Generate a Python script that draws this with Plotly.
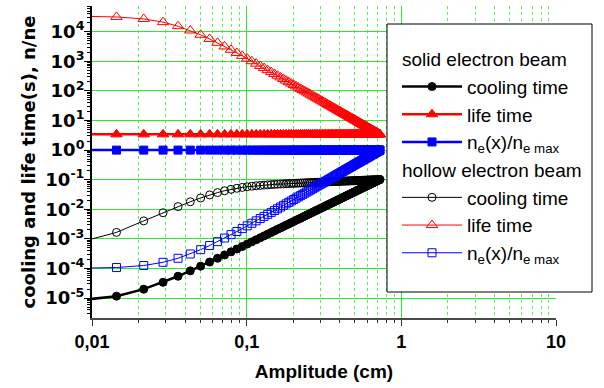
import plotly.graph_objects as go

# Amplitude grid (cm)
AMPLITUDE = [
    0.0072, 0.0144, 0.0216, 0.0288, 0.036, 0.0432, 0.0504, 0.0576, 0.0648, 0.072,
    0.0792, 0.0864, 0.0936, 0.1008, 0.108, 0.1152, 0.1224, 0.1296, 0.1368, 0.144,
    0.1512, 0.1584, 0.1656, 0.1728, 0.18, 0.1872, 0.1944, 0.2016, 0.2088, 0.216,
    0.2232, 0.2304, 0.2376, 0.2448, 0.252, 0.2592, 0.2664, 0.2736, 0.2808, 0.288,
    0.2952, 0.3024, 0.3096, 0.3168, 0.324, 0.3312, 0.3384, 0.3456, 0.3528, 0.36,
    0.3672, 0.3744, 0.3816, 0.3888, 0.396, 0.4032, 0.4104, 0.4176, 0.4248, 0.432,
    0.4392, 0.4464, 0.4536, 0.4608, 0.468, 0.4752, 0.4824, 0.4896, 0.4968, 0.504,
    0.5112, 0.5184, 0.5256, 0.5328, 0.54, 0.5472, 0.5544, 0.5616, 0.5688, 0.576,
    0.5832, 0.5904, 0.5976, 0.6048, 0.612, 0.6192, 0.6264, 0.6336, 0.6408, 0.648,
    0.6552, 0.6624, 0.6696, 0.6768, 0.684, 0.6912, 0.6984, 0.7056, 0.7128, 0.72,
    0.7272,
]

# solid electron beam
SOLID_COOLING = [
    7.79e-6, 1.163e-5, 2.003e-5, 3.412e-5, 5.49e-5, 8.33e-5, 1.200e-4, 1.658e-4, 2.214e-4, 2.875e-4,
    3.648e-4, 4.537e-4, 5.544e-4, 6.685e-4, 7.958e-4, 9.37e-4, 1.092e-3, 1.263e-3, 1.449e-3, 1.650e-3,
    1.868e-3, 2.102e-3, 2.353e-3, 2.623e-3, 2.909e-3, 3.216e-3, 3.540e-3, 3.884e-3, 4.245e-3, 4.627e-3,
    5.031e-3, 5.452e-3, 5.899e-3, 6.365e-3, 6.854e-3, 7.360e-3, 7.890e-3, 8.449e-3, 9.027e-3, 9.632e-3,
    0.01025, 0.01090, 0.01158, 0.01228, 0.01300, 0.01375, 0.01453, 0.01532, 0.01615, 0.01701,
    0.01789, 0.01879, 0.01973, 0.02069, 0.02168, 0.02270, 0.02375, 0.02482, 0.02594, 0.02707,
    0.02822, 0.02942, 0.03064, 0.03190, 0.03318, 0.03449, 0.03586, 0.03723, 0.03863, 0.04010,
    0.04158, 0.04307, 0.04462, 0.04620, 0.04781, 0.04944, 0.05113, 0.05284, 0.05457, 0.05635,
    0.05817, 0.06001, 0.06190, 0.06384, 0.06578, 0.06778, 0.06979, 0.07188, 0.07397, 0.07607,
    0.07825, 0.08048, 0.08273, 0.08498, 0.08730, 0.08970, 0.09208, 0.09455, 0.09698, 0.09955,
    0.1021,
]
SOLID_LIFE = [
    3.4, 3.4, 3.4, 3.4, 3.4, 3.4, 3.4, 3.4, 3.4, 3.4,
    3.4, 3.4, 3.4, 3.4, 3.4, 3.4, 3.4, 3.4, 3.4, 3.4,
    3.4, 3.4, 3.4, 3.4, 3.4, 3.4, 3.4, 3.4, 3.4, 3.4,
    3.4, 3.4, 3.4, 3.4, 3.4, 3.4, 3.4, 3.4, 3.4, 3.4,
    3.4, 3.4, 3.4, 3.4, 3.4, 3.4, 3.4, 3.4, 3.4, 3.4,
    3.4, 3.4, 3.4, 3.4, 3.4, 3.4, 3.4, 3.4, 3.4, 3.4,
    3.4, 3.4, 3.4, 3.4, 3.4, 3.4, 3.4, 3.4, 3.4, 3.4,
    3.4, 3.4, 3.4, 3.4, 3.4, 3.4, 3.4, 3.4, 3.4, 3.4,
    3.4, 3.4, 3.4, 3.4, 3.4, 3.4, 3.4, 3.4, 3.4, 3.4,
    3.4, 3.4, 3.4, 3.4, 3.4, 3.4, 3.4, 3.4, 3.4, 3.4,
    3.4,
]
SOLID_NE = [
    1.0, 1.0, 1.0, 1.0, 1.0, 1.0, 1.0, 1.0, 1.0, 1.0,
    1.0, 1.0, 1.0, 1.0, 1.0, 1.0, 1.0, 1.0, 1.0, 1.0,
    1.0, 1.0, 1.0, 1.0, 1.0, 1.0, 1.0, 1.0, 1.0, 1.0,
    1.0, 1.0, 1.0, 1.0, 1.0, 1.0, 1.0, 1.0, 1.0, 1.0,
    1.0, 1.0, 1.0, 1.0, 1.0, 1.0, 1.0, 1.0, 1.0, 1.0,
    1.0, 1.0, 1.0, 1.0, 1.0, 1.0, 1.0, 1.0, 1.0, 1.0,
    1.0, 1.0, 1.0, 1.0, 1.0, 1.0, 1.0, 1.0, 1.0, 1.0,
    1.0, 1.0, 1.0, 1.0, 1.0, 1.0, 1.0, 1.0, 1.0, 1.0,
    1.0, 1.0, 1.0, 1.0, 1.0, 1.0, 1.0, 1.0, 1.0, 1.0,
    1.0, 1.0, 1.0, 1.0, 1.0, 1.0, 1.0, 1.0, 1.0, 1.0,
    1.0,
]

# hollow electron beam
HOLLOW_COOLING = [
    6.3e-4, 1.66e-3, 4.07e-3, 7.64e-3, 0.01234, 0.01795, 0.02417, 0.03056, 0.03671, 0.04231,
    0.04721, 0.05137, 0.05487, 0.05781, 0.06027, 0.06237, 0.06416, 0.06573, 0.06711, 0.06834,
    0.06947, 0.07048, 0.07143, 0.07229, 0.07311, 0.07390, 0.07464, 0.07534, 0.07600, 0.07665,
    0.07726, 0.07785, 0.07844, 0.07899, 0.07953, 0.08005, 0.08057, 0.08107, 0.08154, 0.08203,
    0.08248, 0.08294, 0.08337, 0.08382, 0.08423, 0.08465, 0.08506, 0.08547, 0.08585, 0.08624,
    0.08664, 0.08700, 0.08736, 0.08772, 0.08809, 0.08845, 0.08880, 0.08913, 0.08948, 0.08981,
    0.09014, 0.09045, 0.09077, 0.09110, 0.09142, 0.09174, 0.09204, 0.09235, 0.09263, 0.09293,
    0.09323, 0.09351, 0.09379, 0.09407, 0.09435, 0.09464, 0.09490, 0.09518, 0.09545, 0.09572,
    0.09598, 0.09622, 0.09649, 0.09673, 0.09700, 0.09725, 0.09750, 0.09775, 0.09799, 0.09822,
    0.09847, 0.09869, 0.09894, 0.09917, 0.09940, 0.09963, 0.09986, 0.1001, 0.1003, 0.1005,
    0.1007,
]
HOLLOW_LIFE = [
    33660, 31540, 26940, 20970, 15360, 10980, 7854, 5696, 4210, 3176,
    2443, 1913, 1523, 1231, 1007, 834.2, 698.3, 590.3, 503.2, 432.3,
    374.1, 325.8, 285.5, 251.5, 222.7, 198.1, 177.1, 158.8, 143.0, 129.2,
    117.2, 106.6, 97.2, 88.9, 81.5, 74.9, 69.0, 63.7, 58.96, 54.64,
    50.75, 47.22, 44.00, 41.07, 38.40, 35.95, 33.70, 31.66, 29.75, 28.01,
    26.38, 24.89, 23.51, 22.24, 21.04, 19.93, 18.90, 17.94, 17.05, 16.21,
    15.43, 14.69, 14.00, 13.36, 12.75, 12.18, 11.64, 11.14, 10.66, 10.21,
    9.78, 9.38, 9.00, 8.64, 8.30, 7.98, 7.67, 7.38, 7.10, 6.84,
    6.59, 6.35, 6.12, 5.91, 5.70, 5.51, 5.32, 5.14, 4.97, 4.80,
    4.65, 4.50, 4.35, 4.22, 4.09, 3.96, 3.84, 3.72, 3.61, 3.50,
    3.40,
]
HOLLOW_NE = [
    1.010e-4, 1.078e-4, 1.262e-4, 1.621e-4, 2.213e-4, 3.096e-4, 4.329e-4, 5.969e-4, 8.076e-4, 1.0706e-3,
    1.392e-3, 1.777e-3, 2.232e-3, 2.763e-3, 3.376e-3, 4.076e-3, 4.869e-3, 5.760e-3, 6.757e-3, 7.865e-3,
    9.089e-3, 0.010435, 0.011909, 0.013517, 0.015266, 0.01716, 0.01920, 0.02141, 0.02377, 0.02631,
    0.02902, 0.03190, 0.03498, 0.03825, 0.04171, 0.04538, 0.04926, 0.05336, 0.05767, 0.06222,
    0.06699, 0.07201, 0.07727, 0.08278, 0.08855, 0.09457, 0.1009, 0.1074, 0.1143, 0.1214,
    0.1289, 0.1366, 0.1446, 0.1529, 0.1616, 0.1706, 0.1799, 0.1895, 0.1994, 0.2098,
    0.2204, 0.2314, 0.2428, 0.2545, 0.2667, 0.2791, 0.2920, 0.3053, 0.3190, 0.3330,
    0.3475, 0.3624, 0.3777, 0.3934, 0.4096, 0.4262, 0.4432, 0.4607, 0.4786, 0.4970,
    0.5159, 0.5353, 0.5551, 0.5754, 0.5962, 0.6174, 0.6392, 0.6615, 0.6843, 0.7077,
    0.7315, 0.7559, 0.7808, 0.8063, 0.8323, 0.8588, 0.8859, 0.9136, 0.9419, 0.9707,
    1.0,
]

X_TICKS = [0.01, 0.1, 1, 10]
X_TICKTEXT = ["0,01", "0,1", "1", "10"]
Y_TICKS = [1e-5, 1e-4, 1e-3, 1e-2, 1e-1, 1e0, 1e1, 1e2, 1e3, 1e4]
Y_TICKTEXT = ["10<sup>-5</sup>", "10<sup>-4</sup>", "10<sup>-3</sup>", "10<sup>-2</sup>",
              "10<sup>-1</sup>", "10<sup>0</sup>", "10<sup>1</sup>", "10<sup>2</sup>",
              "10<sup>3</sup>", "10<sup>4</sup>"]

ARIAL = "Liberation Sans, Arial, sans-serif"
WIDE = "DejaVu Sans, sans-serif"
GREEN = "#2aee2a"

# plot-area geometry in pixels (used only for layout placement)
W, H = 604, 388
ML, MR, MT, MB = 92, 48, 6, 70
PW, PH = W - ML - MR, H - MT - MB


def px_x(p):
    return (p - ML) / PW


def px_y(p):
    return (H - MB - p) / PH


fig = go.Figure()

series = [
    ("cooling time", SOLID_COOLING, "black", "circle", "solid", "solid electron beam", 2.5, 8),
    ("life time", SOLID_LIFE, "red", "triangle-up", "solid", "solid electron beam", 2.5, 10),
    ("n<sub>e</sub>(x)/n<sub>e max</sub>", SOLID_NE, "blue", "square", "solid", "solid electron beam", 2.5, 8),
    ("cooling time", HOLLOW_COOLING, "black", "circle-open", "hollow", "hollow electron beam", 1, 8),
    ("life time", HOLLOW_LIFE, "red", "triangle-up-open", "hollow", "hollow electron beam", 1, 10),
    ("n<sub>e</sub>(x)/n<sub>e max</sub>", HOLLOW_NE, "blue", "square-open", "hollow", "hollow electron beam", 1, 8),
]

seen = set()
for name, ys, color, symbol, group, gtitle, lw, ms in series:
    kw = {}
    if group not in seen:
        kw["legendgrouptitle"] = dict(text=gtitle, font=dict(family=ARIAL, size=19, color="black"))
        seen.add(group)
    fig.add_trace(go.Scatter(
        x=AMPLITUDE, y=ys, name=name, mode="lines+markers",
        line=dict(color=color, width=lw),
        marker=dict(symbol=symbol, size=ms, color=color, line=dict(color=color, width=1)),
        legendgroup=group, **kw,
    ))

fig.update_layout(
    width=W, height=H,
    margin=dict(l=ML, r=MR, t=MT, b=MB),
    paper_bgcolor="white", plot_bgcolor="white",
    showlegend=True,
    legend=dict(
        x=px_x(397), y=px_y(40), xanchor="left", yanchor="top",
        bgcolor="rgba(0,0,0,0)", borderwidth=0,
        font=dict(family=ARIAL, size=19, color="black"),
        tracegroupgap=0, itemwidth=60,
    ),
    shapes=[dict(
        type="rect", xref="paper", yref="paper",
        x0=px_x(387), x1=px_x(592), y0=px_y(292), y1=px_y(24),
        fillcolor="white", line=dict(color="black", width=1), layer="above",
    )],
)

fig.update_xaxes(
    type="log", range=[-2, 1],
    tickmode="array", tickvals=X_TICKS, ticktext=X_TICKTEXT,
    tickfont=dict(family=ARIAL, size=18, color="black", weight="bold"),
    ticks="outside", ticklen=6, tickwidth=1, tickcolor="#333333",
    showline=True, linecolor="#4a4a4a", linewidth=2, mirror=False,
    showgrid=True, gridcolor=GREEN, gridwidth=1, zeroline=False,
    minor=dict(dtick="D1", ticks="outside", ticklen=3, tickcolor="#333333",
               showgrid=True, gridcolor="#55ee55", griddash="dot", gridwidth=1),
    title=dict(text="Amplitude (cm)", standoff=14,
               font=dict(family=ARIAL, size=19, color="black", weight="bold")),
    automargin=False,
)

fig.update_yaxes(
    type="log", range=[-5.672, 4.868],
    tickmode="array", tickvals=Y_TICKS, ticktext=Y_TICKTEXT,
    tickfont=dict(family=WIDE, size=18, color="black", weight="bold"),
    ticks="outside", ticklen=6, tickwidth=1, tickcolor="black",
    ticklabelstandoff=-4,
    showline=True, linecolor="black", linewidth=2, mirror=False,
    showgrid=True, gridcolor=GREEN, gridwidth=1, zeroline=False,
    minor=dict(dtick="D1", ticks="outside", ticklen=3, tickcolor="black", showgrid=False),
    title=dict(text="cooling and life time(s), n/ne", standoff=5,
               font=dict(family=WIDE, size=18, color="black", weight="bold")),
    automargin=False,
)

fig.write_html("out.html")
